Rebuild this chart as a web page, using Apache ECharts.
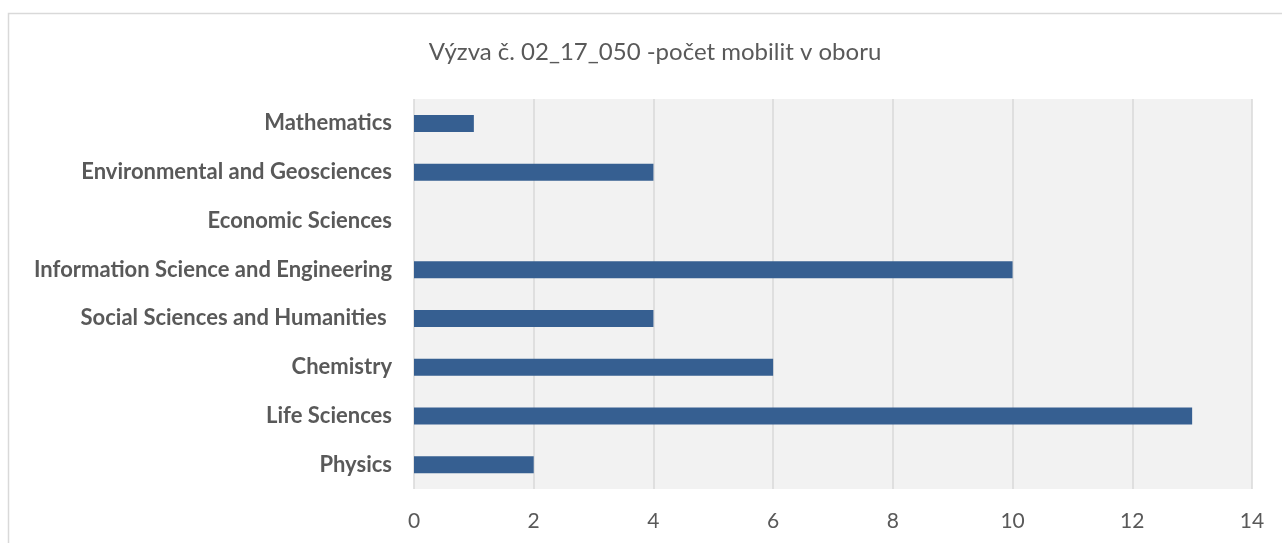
<!DOCTYPE html>
<html>
<head>
<meta charset="utf-8">
<script src="https://cdn.jsdelivr.net/npm/echarts@6/dist/echarts.min.js"></script>
<style>
  html, body { margin: 0; padding: 0; background: #fff; }
  #chart { width: 1282px; height: 543px; }
</style>
</head>
<body>
<div id="chart"></div>
<script>
// data, bottom to top as drawn
const categories = ['Physics', 'Life Sciences', 'Chemistry', 'Social Sciences and Humanities ', 'Information Science and Engineering', 'Economic Sciences', 'Environmental and Geosciences', 'Mathematics']
const values = [2, 13, 6, 4, 10, 0, 4, 1]
const xTicks = [0, 2, 4, 6, 8, 10, 12, 14]

const FONT = 'Lato'
const chart = echarts.init(document.getElementById('chart'))
chart.setOption({
  animation: false,
  title: {
    text: 'Výzva č. 02_17_050 -počet mobilit v oboru',
    left: 650, top: 35, textAlign: 'center',
    textStyle: { fontFamily: FONT, fontSize: 24, fontWeight: 'normal', color: '#595959' }
  },
  // outer chart border, clipped at right and bottom like the source
  graphic: [{
    type: 'rect', shape: { x: 8.5, y: 13.5, width: 1300, height: 600 },
    style: { fill: 'none', stroke: '#d9d9d9', lineWidth: 1.5 }, silent: true
  }],
  grid: {
    left: 414, right: 30, top: 99, bottom: 54,
    show: true, backgroundColor: '#f2f2f2', borderWidth: 0
  },
  xAxis: {
    type: 'value', min: xTicks[0], max: xTicks[xTicks.length - 1], interval: 2,
    axisLine: { show: false }, axisTick: { show: false },
    splitLine: { lineStyle: { color: '#d9d9d9', width: 1.5 } },
    axisLabel: { margin: 22, fontFamily: FONT, fontSize: 21, color: '#595959' }
  },
  yAxis: {
    type: 'category', data: categories,
    axisLine: { show: false }, axisTick: { show: false },
    axisLabel: { margin: 22, fontFamily: FONT, fontSize: 22, fontWeight: 'bold', color: '#595959' }
  },
  series: [{
    type: 'bar', data: values, barWidth: 17,
    itemStyle: { color: '#365f91' }
  }]
})
</script>
</body>
</html>
